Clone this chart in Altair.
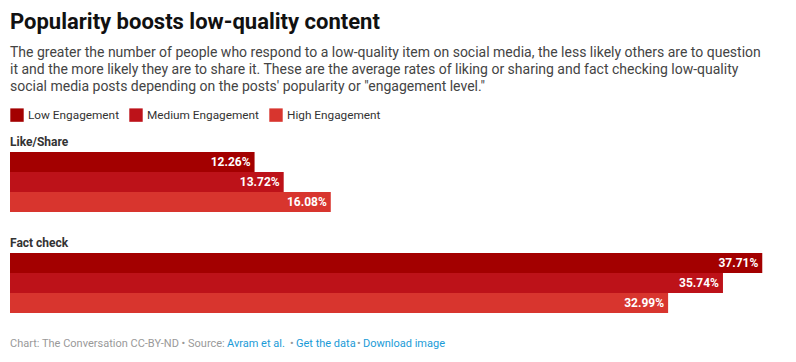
import altair as alt
import pandas as pd

groups = ["Like/Share", "Fact check"]
engagements = ["Low Engagement", "Medium Engagement", "High Engagement"]
like_share = [12.26, 13.72, 16.08]
fact_check = [37.71, 35.74, 32.99]
colors = ["#a30000", "#bd1219", "#d8352e"]

rows = []
for g, vals in zip(groups, [like_share, fact_check]):
    for e, v in zip(engagements, vals):
        rows.append({"Group": g, "Engagement": e, "Value": v, "Label": f"{v:.2f}%"})
df = pd.DataFrame(rows)

FONT = "Roboto"


def panel(group):
    base = alt.Chart(df).transform_filter(alt.datum.Group == group).encode(
        y=alt.Y("Engagement:N", sort=engagements, axis=None,
                scale=alt.Scale(paddingInner=0, paddingOuter=0)),
        x=alt.X("Value:Q", axis=None, scale=alt.Scale(domain=[0, 39], nice=False)),
    )
    bars = base.mark_bar(cornerRadius=0).encode(
        color=alt.Color("Engagement:N", sort=engagements,
                        scale=alt.Scale(domain=engagements, range=colors),
                        legend=alt.Legend(title=None, orient="top", direction="horizontal",
                                          symbolType="square", symbolSize=180,
                                          symbolStrokeWidth=0, labelFontSize=11.8,
                                          labelFont=FONT, labelColor="#333",
                                          labelOffset=4,
                                          columnPadding=10, symbolOffset=0, offset=14,
                                          padding=0))
    )
    text = base.mark_text(align="right", baseline="middle", dx=-4, color="white",
                          font=FONT, fontSize=12, fontWeight="bold").encode(text="Label:N")
    return alt.layer(bars, text).properties(
        width=778, height=60,
        title=alt.TitleParams(group, anchor="start", font=FONT, fontSize=12,
                              fontWeight="bold", color="#333", offset=3),
    )


footer_pieces = [
    ("Chart: The Conversation CC-BY-ND \u2022 Source: ", "#999999", 0),
    ("Avram et al.", "#1a9bd7", 217),
    ("\u2022", "#999999", 280),
    ("Get the data", "#1a9bd7", 286),
    ("\u2022", "#999999", 347),
    ("Download image", "#1a9bd7", 353),
]
footer_layers = []
for txt, col, xp in footer_pieces:
    footer_layers.append(
        alt.Chart(pd.DataFrame({"t": [txt]})).mark_text(
            align="left", baseline="middle", font=FONT, fontSize=11, color=col
        ).encode(text="t:N", x=alt.value(xp), y=alt.value(-2))
    )
footer = alt.layer(*footer_layers).properties(width=778, height=12)

chart = alt.vconcat(panel(groups[0]), panel(groups[1]), footer, spacing=25).properties(
    title=alt.TitleParams(
        "Popularity boosts low-quality content",
        subtitle=[
            "The greater the number of people who respond to a low-quality item on social media, the less likely others are to question",
            "it and the more likely they are to share it. These are the average rates of liking or sharing and fact checking low-quality",
            "social media posts depending on the posts' popularity or \"engagement level.\"",
        ],
        anchor="start", font=FONT, fontSize=22, fontWeight="bold", color="#111",
        subtitleFont=FONT, subtitleFontSize=14, subtitleColor="#444",
        subtitleLineHeight=17, subtitlePadding=12, offset=13,
    ),
    padding={"left": 2, "top": 3, "right": 0, "bottom": 0},
).configure_view(stroke=None).configure_concat(spacing=25)

chart.save("out.html", embed_options={"renderer": "svg", "actions": False})
